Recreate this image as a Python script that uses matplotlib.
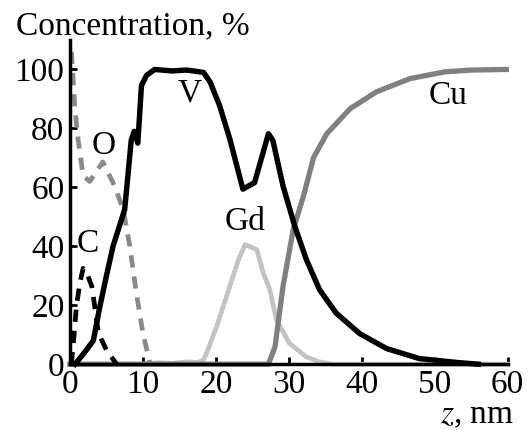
import matplotlib.pyplot as plt

plt.rcParams['font.family'] = 'Liberation Serif'
plt.rcParams['mathtext.fontset'] = 'stix'

# depth profiles, z in nm, concentration in %
v_z = [0.7, 2.0, 3.2, 4.1, 5.0, 5.9, 7.5, 8.4, 8.8, 9.3, 9.8, 10.5, 11.6, 14.0, 16.0, 18.3,
       19.2, 20.5, 21.9, 23.7, 25.3, 27.2, 27.8, 29.2, 30.8, 32.4, 34.2, 36.5, 39.7, 43.4,
       47.9, 53.0, 56.0]
v_c = [0.0, 4.0, 8.0, 19.6, 30.0, 40.0, 52.5, 76.0, 79.0, 75.0, 94.6, 98.0, 100.0, 99.5, 99.8, 99.0,
       95.8, 87.8, 76.5, 59.4, 61.6, 78.2, 76.0, 60.5, 46.9, 35.5, 25.3, 17.3, 10.4, 5.3,
       1.9, 0.6, 0.0]

cu_z = [0.0, 27.2, 28.1, 29.2, 30.6, 32.0, 33.4, 35.2, 38.4, 42.0, 46.6, 51.4, 55.0, 59.8]
cu_c = [0.0, 0.0, 5.9, 26.4, 45.7, 57.0, 70.2, 78.2, 86.7, 92.4, 96.9, 99.2, 99.8, 100.0]

gd_z = [10.0, 12.0, 14.0, 16.0, 17.5, 18.3, 18.7, 20.1, 21.9, 23.1, 24.0, 25.0, 25.6, 26.5,
        27.4, 28.3, 30.1, 32.4, 34.2, 36.0, 40.0, 60.0]
gd_c = [0.0, 0.5, 0.3, 0.8, 0.6, 1.4, 3.6, 12.7, 26.4, 35.5, 40.6, 39.5, 38.9, 30.9,
        25.3, 15.0, 7.0, 2.5, 0.8, 0.0, 0.0, 0.0]

o_z = [0.2, 0.7, 1.1, 1.8, 2.7, 4.5, 5.9, 7.3, 8.2, 9.1, 10.0, 11.0]
o_c = [106.0, 86.0, 76.5, 64.0, 62.0, 68.6, 61.6, 52.6, 40.0, 24.1, 10.5, 0.0]

c_z = [0.2, 0.5, 0.9, 1.4, 1.8, 2.3, 3.0, 3.4, 3.9, 5.0, 6.4]
c_c = [0.0, 8.2, 20.0, 28.0, 32.5, 31.0, 26.4, 19.5, 10.5, 4.8, 0.0]

fig = plt.figure(figsize=(5.3, 4.3), dpi=100)
ax = fig.add_axes([0.132, 0.153, 0.826, 0.754])

ax.plot(gd_z, gd_c, color='#c3c3c3', lw=3.4, clip_on=False)
ax.plot(cu_z, cu_c, color='#808080', lw=3.8, clip_on=False)
ax.plot(o_z, o_c, color='#8a8a8a', lw=3.4, ls=(0, (2.6, 1.9)), clip_on=False)
ax.plot(c_z, c_c, color='black', lw=3.4, ls=(0, (2.6, 1.9)), clip_on=False)
ax.plot(v_z, v_c, color='black', lw=3.9, clip_on=False, solid_joinstyle='round')

fs = 24
ax.text(16.4, 92, 'V', fontsize=fs, ha='center', va='center')
ax.text(4.6, 74, 'O', fontsize=fs, ha='center', va='center')
ax.text(2.5, 41, 'C', fontsize=fs, ha='center', va='center')
ax.text(24.0, 48.5, 'Gd', fontsize=fs, ha='center', va='center')
ax.text(51.8, 91, 'Cu', fontsize=fs, ha='center', va='center')

ax.set_xlim(0, 60)
ax.set_ylim(0, 110)
ax.set_xticks([0, 10, 20, 30, 40, 50, 60])
ax.set_yticks([0, 20, 40, 60, 80, 100])
ax.tick_params(direction='in', length=5, width=2, labelsize=fs, pad=4)
for s in ['top', 'right']:
    ax.spines[s].set_visible(False)
ax.spines['left'].set_linewidth(2.5)
ax.spines['bottom'].set_linewidth(2.5)

fig.text(0.03, 0.94, 'Concentration, %', fontsize=fs, ha='left', va='center')
fig.text(0.97, 0.035, r'$z$, nm', fontsize=fs, ha='right', va='center')

fig.savefig('out.png', dpi=100)
